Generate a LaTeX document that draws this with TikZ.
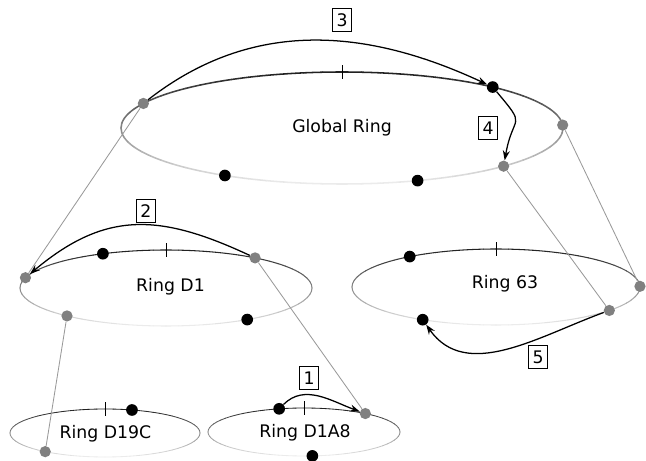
\documentclass[tikz,border=0pt]{standalone}
\usepackage{fontspec}
\setmainfont{DejaVu Sans}
\usetikzlibrary{arrows.meta,calc}

\newcommand{\drawring}[4]{%
  \foreach \a in {0,5,...,355}{
    \pgfmathsetmacro\ringgray{int(48+40*sin(\a+2.5))}
    \draw[black!\ringgray, line width=#4, line cap=round] ($(#1)+(\a:#2 and #3)$) arc[start angle=\a, end angle=\a+5, x radius=#2, y radius=#3];
  }
  \draw[line width=0.6pt] ($(#1)+(0,#3)+(0,-7)$) -- ++(0,14);
}

\begin{document}
\begin{tikzpicture}[x=0.025cm, y=0.025cm, font=\fontsize{12.3}{14}\selectfont,
  gdot/.style={circle, fill=black!50, inner sep=0pt, minimum size=8pt},
  bdot/.style={circle, fill=black, inner sep=0pt, minimum size=8.3pt},
  stepnum/.style={draw, line width=0.5pt, inner sep=0pt, minimum width=14pt, minimum height=16pt},
  link/.style={black!40, line width=0.6pt},
  hop/.style={-{Stealth[length=7pt, width=5pt]}, line width=0.9pt}]
\useasboundingbox (0,0) rectangle (646,461);
\coordinate (G) at (342,333);
\coordinate (D1) at (166,173);
\coordinate (R63) at (496,174);
\coordinate (D19C) at (105,28);
\coordinate (D1A8) at (304,29);

\drawring{G}{221}{56}{1.1pt}
\drawring{D1}{146}{38}{0.75pt}
\drawring{R63}{144}{38}{0.75pt}
\drawring{D19C}{95}{24}{0.6pt}
\drawring{D1A8}{96}{24}{0.6pt}

\node (Glabel) at (342,333.5) {Global Ring};
\node (D1label) at (170.5,174) {Ring D1};
\node (R63label) at (505,177.5) {Ring 63};
\node (D19Clabel) at (105.5,27.5) {Ring D19C};
\node (D1A8label) at (305,28) {Ring D1A8};

\node[gdot] (G-a) at ($(G)+(154:221 and 56)$) {};
\node[bdot] (G-b) at ($(G)+(47:221 and 56)$) {};
\node[gdot] (G-c) at ($(G)+(3:221 and 56)$) {};
\node[gdot] (G-d) at ($(G)+(317:221 and 56)$) {};
\node[bdot] (G-e) at ($(G)+(238:221 and 56)$) {};
\node[bdot] (G-f) at ($(G)+(290:221 and 56)$) {};

\node[gdot] (D1-a) at ($(D1)+(164.3:146 and 38)$) {};
\node[bdot] (D1-b) at ($(D1)+(115.6:146 and 38)$) {};
\node[gdot] (D1-c) at ($(D1)+(52.4:146 and 38)$) {};
\node[gdot] (D1-d) at ($(D1)+(227.3:146 and 38)$) {};
\node[bdot] (D1-e) at ($(D1)+(303.8:146 and 38)$) {};

\node[bdot] (R63-a) at ($(R63)+(126.8:144 and 38)$) {};
\node[gdot] (R63-b) at ($(R63)+(1:144 and 38)$) {};
\node[gdot] (R63-c) at ($(R63)+(321.9:144 and 38)$) {};
\node[bdot] (R63-d) at ($(R63)+(239.4:144 and 38)$) {};

\node[bdot] (D19C-a) at ($(D19C)+(73.5:95 and 24)$) {};
\node[gdot] (D19C-b) at ($(D19C)+(231:95 and 24)$) {};

\node[bdot] (D1A8-a) at ($(D1A8)+(105:96 and 24)$) {};
\node[gdot] (D1A8-b) at ($(D1A8)+(50.3:96 and 24)$) {};
\node[bdot] (D1A8-c) at ($(D1A8)+(275:96 and 24)$) {};

\draw[link] (G-a) -- (D1-a);
\draw[link] (G-d) -- (R63-c);
\draw[link] (G-c) -- (R63-b);
\draw[link] (D1-c) -- (D1A8-b);
\draw[link] (D1-d) -- (D19C-b);

\draw[hop] (D1A8-a) to[out=45, in=160] (D1A8-b);
\draw[hop] (D1-c) to[out=155, in=40, looseness=1.15] (D1-a);
\draw[hop] (G-a) to[out=38, in=155] (G-b);
\draw[hop] (G-b) to[out=-50, in=80, looseness=1.8] (G-d);
\draw[hop] (R63-c) to[out=200, in=-55] (R63-d);

\node[stepnum] (s1) at (309,83) {1};
\node[stepnum] (s2) at (146,250) {2};
\node[stepnum] (s3) at (342,441) {3};
\node[stepnum] (s4) at (488,333) {4};
\node[stepnum] (s5) at (538,104) {5};
\end{tikzpicture}
\end{document}
